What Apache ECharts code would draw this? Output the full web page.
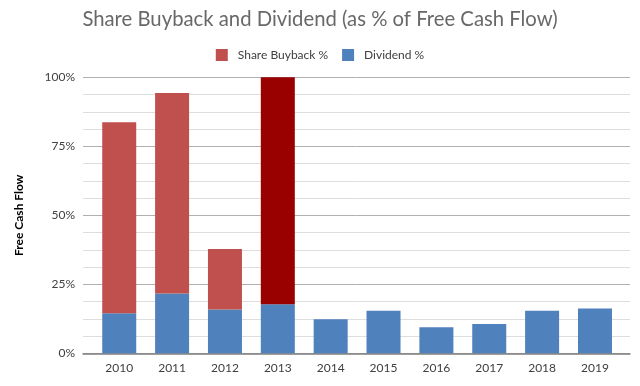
<!DOCTYPE html>
<html><head><meta charset="utf-8">
<script src="https://cdn.jsdelivr.net/npm/echarts@6/dist/echarts.min.js"></script>
<style>html,body{margin:0;padding:0;background:#fff}#c{width:640px;height:386px}</style>
</head><body><div id="c"></div>
<script>
const years = ['2010','2011','2012','2013','2014','2015','2016','2017','2018','2019'];
const dividend = [14.5, 21.7, 15.9, 17.8, 12.3, 15.4, 9.4, 10.6, 15.4, 16.2];
const buyback = [69.2, 72.6, 21.9, 82.2, 0, 0, 0, 0, 0, 0];
const highlightYear = '2013';
const yTicks = [0, 25, 50, 75, 100];

const chart = echarts.init(document.getElementById('c'));
const font = 'Lato, "Open Sans", sans-serif';
chart.setOption({
  animation: false,
  title: {
    text: 'Share Buyback and Dividend (as % of Free Cash Flow)',
    left: 'center', top: 4,
    textStyle: { fontFamily: font, fontSize: 20.3, fontWeight: 'normal', color: '#686868' }
  },
  legend: {
    data: ['Share Buyback %', 'Dividend %'],
    top: 44, left: 'center',
    itemWidth: 12, itemHeight: 12, itemGap: 14,
    icon: 'rect',
    textStyle: { fontFamily: font, fontSize: 12, color: '#404040', padding: [0, 0, 0, 5] }
  },
  grid: [
    { left: 83, right: 10, top: 77.3, bottom: 32.7 },
    { left: 92.8, right: 18.6, top: 77.3, bottom: 32.7 }
  ],
  xAxis: [
    { gridIndex: 0, type: 'category', data: years, show: true,
      axisLine: { show: true, lineStyle: { color: '#7f7f7f', width: 1.5 } },
      axisTick: { show: false }, axisLabel: { show: false }, splitLine: { show: false } },
    { gridIndex: 1, type: 'category', data: years,
      axisLine: { show: false }, axisTick: { show: false },
      axisLabel: { fontFamily: font, fontSize: 12, color: '#404040', margin: 9 } }
  ],
  yAxis: [
    { gridIndex: 0, type: 'value', min: yTicks[0], max: yTicks[yTicks.length - 1], interval: 25,
      name: 'Free Cash Flow', nameLocation: 'middle', nameGap: 58, nameRotate: 90,
      nameTextStyle: { fontFamily: font, fontSize: 12, fontWeight: 'bold', color: '#000' },
      axisLabel: { formatter: v => v + '%', fontFamily: font, fontSize: 12, color: '#404040', margin: 8 },
      axisLine: { show: false }, axisTick: { show: false },
      splitLine: { lineStyle: { color: '#b0b0b0', width: 1 } },
      minorTick: { show: false, splitNumber: 4 },
      minorSplitLine: { show: true, lineStyle: { color: '#dedede', width: 1 } } },
    { gridIndex: 1, type: 'value', min: yTicks[0], max: yTicks[yTicks.length - 1], show: false, splitLine: { show: false } }
  ],
  series: [
    { name: 'Dividend %', type: 'bar', stack: 's', xAxisIndex: 1, yAxisIndex: 1,
      barWidth: 34, data: dividend,
      itemStyle: { color: '#4F81BD' } },
    { name: 'Share Buyback %', type: 'bar', stack: 's', xAxisIndex: 1, yAxisIndex: 1,
      barWidth: 34,
      data: buyback.map((v, i) => years[i] === highlightYear ? { value: v, itemStyle: { color: '#990000' } } : v),
      itemStyle: { color: '#C0504D' } }
  ]
});
</script></body></html>
